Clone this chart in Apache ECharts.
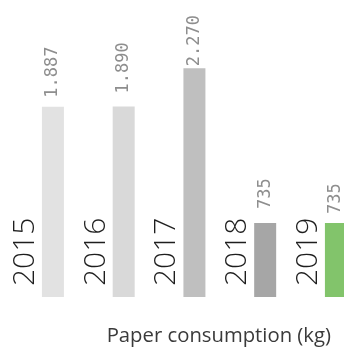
<!DOCTYPE html>
<html>
<head>
<meta charset="utf-8">
<script src="https://cdn.jsdelivr.net/npm/echarts@6/dist/echarts.min.js"></script>
<style>
  html, body { margin: 0; padding: 0; background: #ffffff; }
  #chart { width: 344px; height: 349px; }
</style>
</head>
<body>
<div id="chart"></div>
<script>
const years = ['2015', '2016', '2017', '2018', '2019'];
const paperKg = [1887, 1890, 2270, 735, 735];
const barColors = ['#e2e2e2', '#d9d9d9', '#bfbfbf', '#a6a6a6', '#82c46b'];
const chartTitle = 'Paper consumption (kg)';
// label gap above each bar (style, px)
const valueLabelGap = [9, 13, 2, 14, 9];

function fmt(v) {
  return String(v).replace(/\B(?=(\d{3})+(?!\d))/g, '.');
}

const chart = echarts.init(document.getElementById('chart'), null, { renderer: 'canvas' });

chart.setOption({
  animation: false,
  backgroundColor: '#ffffff',
  title: {
    text: chartTitle,
    right: 8,
    top: 321,
    textStyle: { fontFamily: 'Open Sans', fontSize: 20.3, fontWeight: 'normal', color: '#3a3a3a' }
  },
  grid: {
    left: 3.8, width: 353.75, top: 45, height: 252,
    containLabel: false,
    outerBoundsMode: 'none'
  },
  xAxis: {
    type: 'category',
    data: years,
    axisLine: { show: false },
    axisTick: { show: false },
    axisLabel: { show: false },
    splitLine: { show: false }
  },
  yAxis: {
    type: 'value',
    min: 0,
    max: 2500,
    show: false,
    splitLine: { show: false }
  },
  series: [
    {
      name: 'year',
      type: 'bar',
      barWidth: 22,
      barGap: '25%',
      data: years.map(() => 0),
      itemStyle: { color: 'rgba(0,0,0,0)' },
      label: {
        show: true,
        position: 'insideBottom',
        distance: 11,
        rotate: 90,
        align: 'left',
        verticalAlign: 'middle',
        formatter: p => years[p.dataIndex],
        fontFamily: 'Open Sans',
        fontWeight: 300,
        fontSize: 30,
        color: '#1e1e1e'
      }
    },
    {
      name: 'Paper consumption',
      type: 'bar',
      barWidth: 22,
      data: paperKg.map((v, i) => ({
        value: v,
        itemStyle: { color: barColors[i] },
        label: { distance: valueLabelGap[i] }
      })),
      label: {
        show: true,
        position: 'top',
        distance: 9,
        rotate: 90,
        align: 'left',
        verticalAlign: 'middle',
        formatter: p => fmt(p.value),
        fontFamily: 'DejaVu Sans Mono',
        fontSize: 17,
        color: '#8e8e8e'
      }
    }
  ]
});
</script>
</body>
</html>
